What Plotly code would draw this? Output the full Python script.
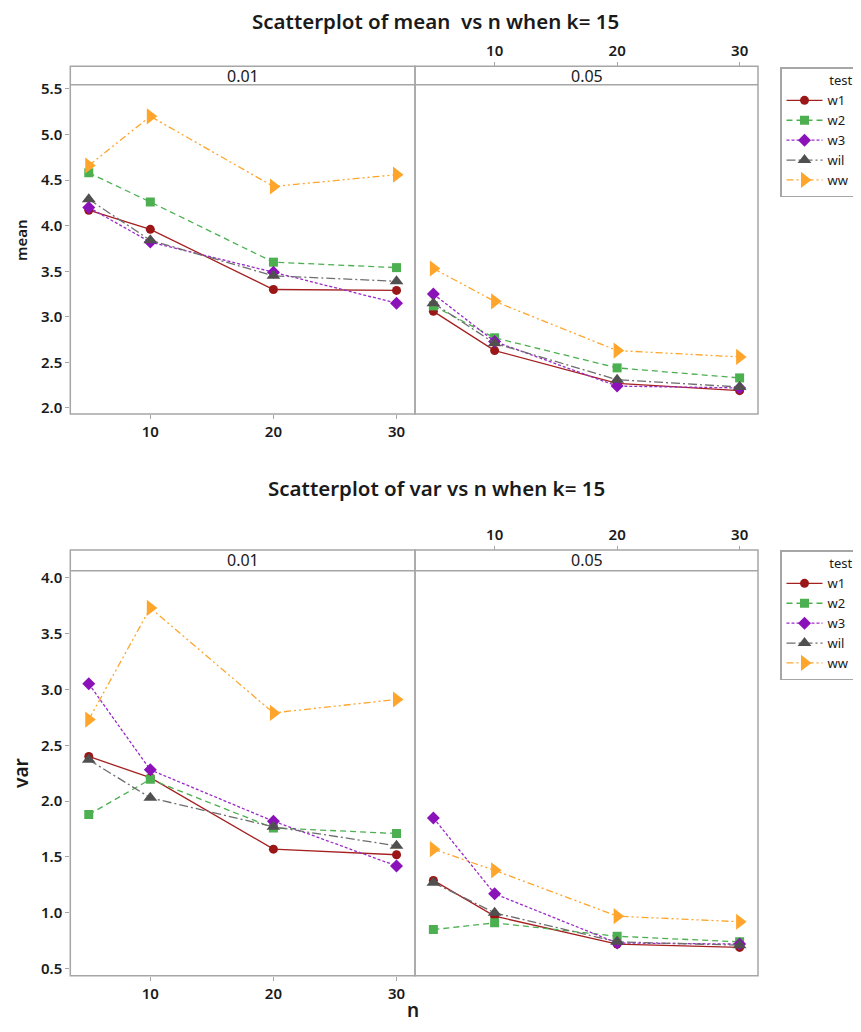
import plotly.graph_objects as go

# page body has an 8px margin: the figure is sized so that the page does not scroll
OFF = 8
FW, FH = 853, 1016

# ---------------- data ----------------
n_values = [5, 10, 20, 30]
tests = ["w1", "w2", "w3", "wil", "ww"]
panels = ["0.01", "0.05"]

# mean, alpha = 0.01
mean_w1_001 = [4.17, 3.96, 3.30, 3.29]
mean_w2_001 = [4.58, 4.26, 3.60, 3.54]
mean_w3_001 = [4.20, 3.82, 3.49, 3.15]
mean_wil_001 = [4.29, 3.84, 3.45, 3.39]
mean_ww_001 = [4.66, 5.20, 4.43, 4.56]
# mean, alpha = 0.05
mean_w1_005 = [3.06, 2.63, 2.27, 2.19]
mean_w2_005 = [3.12, 2.77, 2.44, 2.33]
mean_w3_005 = [3.25, 2.73, 2.24, 2.22]
mean_wil_005 = [3.15, 2.71, 2.31, 2.23]
mean_ww_005 = [3.53, 3.17, 2.63, 2.56]
# var, alpha = 0.01
var_w1_001 = [2.40, 2.21, 1.57, 1.52]
var_w2_001 = [1.88, 2.195, 1.76, 1.71]
var_w3_001 = [3.05, 2.28, 1.82, 1.42]
var_wil_001 = [2.37, 2.03, 1.77, 1.60]
var_ww_001 = [2.73, 3.73, 2.79, 2.91]
# var, alpha = 0.05
var_w1_005 = [1.29, 0.97, 0.72, 0.69]
var_w2_005 = [0.85, 0.91, 0.79, 0.74]
var_w3_005 = [1.85, 1.17, 0.73, 0.72]
var_wil_005 = [1.27, 1.00, 0.74, 0.71]
var_ww_005 = [1.57, 1.38, 0.97, 0.92]

mean_ticks = [2.0, 2.5, 3.0, 3.5, 4.0, 4.5, 5.0, 5.5]
var_ticks = [0.5, 1.0, 1.5, 2.0, 2.5, 3.0, 3.5, 4.0]
n_ticks = [10, 20, 30]

mean_data = {
    "0.01": [mean_w1_001, mean_w2_001, mean_w3_001, mean_wil_001, mean_ww_001],
    "0.05": [mean_w1_005, mean_w2_005, mean_w3_005, mean_wil_005, mean_ww_005],
}
var_data = {
    "0.01": [var_w1_001, var_w2_001, var_w3_001, var_wil_001, var_ww_001],
    "0.05": [var_w1_005, var_w2_005, var_w3_005, var_wil_005, var_ww_005],
}

# ---------------- styles ----------------
styles = {
    "w1": dict(color="#9b1616", lcolor="#a52020", symbol="circle", size=9, dash="solid"),
    "w2": dict(color="#4caf50", lcolor="#4caf50", symbol="square", size=9, dash="6px,4px"),
    "w3": dict(color="#8a12b8", lcolor="#9a2ac8", symbol="diamond", size=10, dash="3px,2px"),
    "wil": dict(color="#505050", lcolor="#6e6e6e", symbol="triangle-up", size=12, dash="9px,3px,2px,3px"),
    "ww": dict(color="#ffa52c", lcolor="#ffa52c", symbol="triangle-right", size=14, dash="7px,3px,2px,3px,2px,3px"),
}

FONT = "Noto Sans"
GRID = "#a6a6a6"
TXT = "#1a1a1a"


def px(x):
    return (x - OFF) / FW


def py(y):
    return 1 - (y - OFF) / FH


fig = go.Figure()

# geometry (window pixels of the reference)
X_L, X_M, X_R = 70.3, 415.0, 758.0
charts = [
    dict(data=mean_data, strip_top=66.3, strip_bot=84.7, bot=414.0,
         yrange=[1.934, 5.547], yticks=mean_ticks, ax=("x", "y", "x2", "y2"),
         legend="legend", ytitle="mean", ytitle_size=15, ytitle_y=240),
    dict(data=var_data, strip_top=550.0, strip_bot=570.7, bot=975.7,
         yrange=[0.437, 4.063], yticks=var_ticks, ax=("x3", "y3", "x4", "y4"),
         legend="legend2", ytitle="var", ytitle_size=19, ytitle_y=773),
]

shapes = []
annotations = []

for ci, ch in enumerate(charts):
    xa1, ya1, xa2, ya2 = ch["ax"]
    for pi, pan in enumerate(panels):
        xa = xa1 if pi == 0 else xa2
        ya = ya1 if pi == 0 else ya2
        for ti, t in enumerate(tests):
            s = styles[t]
            fig.add_trace(go.Scatter(
                x=n_values, y=ch["data"][pan][ti], name=t,
                mode="lines+markers",
                line=dict(color=s["lcolor"], width=1.3, dash=s["dash"]),
                marker=dict(color=s["color"], symbol=s["symbol"], size=s["size"]),
                xaxis=xa, yaxis=ya, legend=ch["legend"],
                legendgroup=f"{ci}-{t}", showlegend=(pi == 0),
            ))

    ydom = [py(ch["bot"]), py(ch["strip_bot"])]
    tickfont = dict(family=FONT, size=15, color=TXT, weight=600)
    k1 = "xaxis" if ci == 0 else "xaxis3"
    k2 = "xaxis2" if ci == 0 else "xaxis4"
    ky1 = "yaxis" if ci == 0 else "yaxis3"
    ky2 = "yaxis2" if ci == 0 else "yaxis4"
    common_x = dict(range=[3.5, 31.5], tickvals=n_ticks, ticks="outside", ticklen=4,
                    tickcolor=GRID, tickwidth=1, showgrid=False, zeroline=False,
                    showline=False, tickfont=tickfont)
    fig.update_layout(**{
        k1: dict(domain=[px(X_L), px(X_M)], anchor=ya1, side="bottom", **common_x),
        k2: dict(domain=[px(X_M), px(X_R)], anchor="free",
                 position=py(ch["strip_top"]), side="top", **common_x),
        ky1: dict(domain=ydom, range=ch["yrange"], tickvals=ch["yticks"], tickformat=".1f",
                  ticks="outside", ticklen=4, tickcolor=GRID, showgrid=False,
                  zeroline=False, showline=False, anchor=xa1, tickfont=tickfont),
        ky2: dict(domain=ydom, range=ch["yrange"], matches=ya1, showticklabels=False,
                  ticks="", showgrid=False, zeroline=False, showline=False, anchor=xa2),
    })

    # panel frames and strips
    for (x0, x1) in [(X_L, X_M), (X_M, X_R)]:
        shapes.append(dict(type="rect", xref="paper", yref="paper",
                           x0=px(x0), x1=px(x1), y0=py(ch["bot"]), y1=py(ch["strip_top"]),
                           line=dict(color=GRID, width=1.5), fillcolor="rgba(0,0,0,0)"))
    shapes.append(dict(type="line", xref="paper", yref="paper",
                       x0=px(X_L), x1=px(X_R), y0=py(ch["strip_bot"]), y1=py(ch["strip_bot"]),
                       line=dict(color=GRID, width=1.5)))
    for (x0, x1), lab in zip([(X_L, X_M), (X_M, X_R)], panels):
        annotations.append(dict(text=lab, xref="paper", yref="paper",
                                x=px((x0 + x1) / 2), y=py((ch["strip_top"] + ch["strip_bot"]) / 2),
                                showarrow=False, xanchor="center", yanchor="middle",
                                font=dict(family=FONT, size=16, color=TXT)))
    # y title
    annotations.append(dict(text=ch["ytitle"], xref="paper", yref="paper",
                            x=px(21), y=py(ch["ytitle_y"]), textangle=-90, showarrow=False,
                            xanchor="center", yanchor="middle",
                            font=dict(family=FONT, size=ch["ytitle_size"], color=TXT, weight=600)))

# chart titles
annotations.append(dict(text="Scatterplot of mean  vs n when k= 15", xref="paper", yref="paper",
                        x=px(435), y=py(21), showarrow=False, xanchor="center", yanchor="middle",
                        font=dict(family=FONT, size=20.5, color=TXT, weight=600)))
annotations.append(dict(text="Scatterplot of var vs n when k= 15", xref="paper", yref="paper",
                        x=px(436), y=py(488), showarrow=False, xanchor="center", yanchor="middle",
                        font=dict(family=FONT, size=20.5, color=TXT, weight=600)))
# x title
annotations.append(dict(text="n", xref="paper", yref="paper",
                        x=px(413), y=py(1010), showarrow=False, xanchor="center", yanchor="middle",
                        font=dict(family=FONT, size=19, color=TXT, weight=600)))

legend_common = dict(xanchor="left", yanchor="top", bgcolor="white",
                     bordercolor=GRID, borderwidth=1.5, itemwidth=36,
                     tracegroupgap=0)
fig.update_layout(
    width=FW, height=FH,
    margin=dict(l=0, r=0, t=0, b=0, autoexpand=False),
    paper_bgcolor="white", plot_bgcolor="white",
    shapes=shapes, annotations=annotations,
    legend=dict(x=px(780), y=py(67),
                title=dict(text="test", side="top right", font=dict(family=FONT, size=13, color=TXT)),
                font=dict(family=FONT, size=13, color=TXT), **legend_common),
    legend2=dict(x=px(780), y=py(550),
                 title=dict(text="test", side="top right", font=dict(family=FONT, size=13, color=TXT)),
                 font=dict(family=FONT, size=13, color=TXT), **legend_common),
)

fig.write_html("out.html")
